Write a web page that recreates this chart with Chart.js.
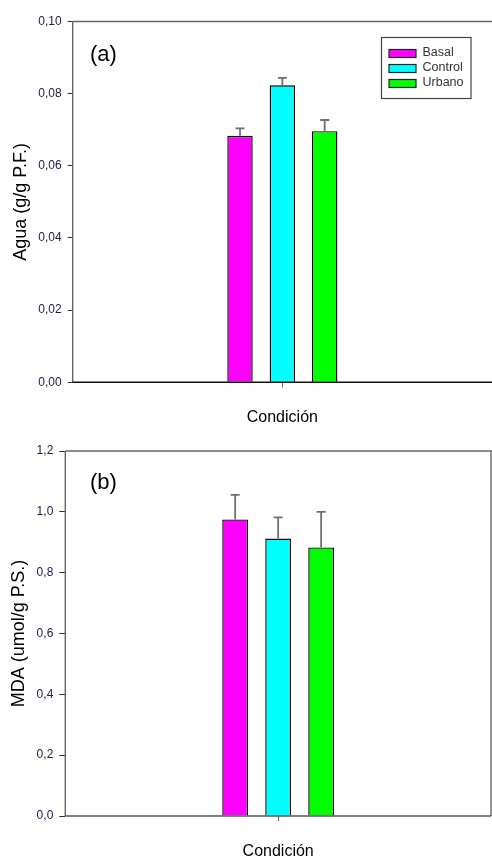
<!DOCTYPE html>
<html>
<head>
<meta charset="utf-8">
<script src="https://cdn.jsdelivr.net/npm/chart.js@4.4.1/dist/chart.umd.min.js"></script>
<style>
    html, body { margin: 0; padding: 0; background: #ffffff; }
    .panel { position: absolute; left: 0; width: 492px; }
    #panelA { top: 0; height: 430px; }
    #panelB { top: 430px; height: 429px; }
</style>
</head>
<body>
<div class="panel" id="panelA"><canvas id="aguaChart"></canvas></div>
<div class="panel" id="panelB"><canvas id="mdaChart"></canvas></div>
<script>
// data
const groups = ['Basal', 'Control', 'Urbano'];
const groupColors = ['#ff00ff', '#00ffff', '#00ff00'];
const xCategory = ['Condición'];

const aguaValues = [0.0683, 0.0823, 0.0696];
const aguaErrors = [0.0021, 0.0021, 0.0031];
const aguaTicks = [0, 0.02, 0.04, 0.06, 0.08, 0.10];

const mdaValues = [0.975, 0.912, 0.883];
const mdaErrors = [0.081, 0.070, 0.117];
const mdaTicks = [0, 0.2, 0.4, 0.6, 0.8, 1.0, 1.2];

Chart.defaults.font.family = "'Liberation Sans', Arial, sans-serif";
Chart.defaults.color = '#000';

function makeDatasets(values, errors) {
    return groups.map((g, i) => ({
        label: g,
        data: [values[i]],
        errors: [errors[i]],
        backgroundColor: groupColors[i],
        borderColor: '#000',
        borderWidth: 1.4,
        categoryPercentage: 0.303,
        barPercentage: 0.6
    }));
}

// error bars, upper side only, with a cap
const errorBars = {
    id: 'errorBars',
    afterDatasetsDraw(chart) {
        let ctx = chart.ctx;
        let yScale = chart.scales.y;
        ctx.save();
        ctx.strokeStyle = '#707070';
        ctx.lineWidth = 1.8;
        chart.data.datasets.forEach((ds, i) => {
            let meta = chart.getDatasetMeta(i);
            meta.data.forEach((bar, j) => {
                let top = yScale.getPixelForValue(ds.data[j] + ds.errors[j]);
                ctx.beginPath();
                ctx.moveTo(bar.x, bar.y);
                ctx.lineTo(bar.x, top);
                ctx.moveTo(bar.x - 4.5, top);
                ctx.lineTo(bar.x + 4.5, top);
                ctx.stroke();
            });
        });
        ctx.restore();
    }
};

// frame round the plot area (top panel has no visible right edge)
const frame = {
    id: 'frame',
    afterDraw(chart, args, opts) {
        let a = chart.chartArea;
        let ctx = chart.ctx;
        ctx.save();
        ctx.lineWidth = 1.4;
        ctx.strokeStyle = opts.color;
        ctx.beginPath();
        ctx.moveTo(a.left, a.top);
        ctx.lineTo(a.right + 5, a.top);
        if (opts.right) {
            ctx.moveTo(a.right, a.top);
            ctx.lineTo(a.right, a.bottom);
        }
        ctx.moveTo(a.left, a.top);
        ctx.lineTo(a.left, a.bottom);
        ctx.stroke();
        ctx.strokeStyle = opts.bottomColor;
        ctx.beginPath();
        ctx.moveTo(a.left, a.bottom);
        ctx.lineTo(a.right + (opts.right ? 0 : 5), a.bottom);
        ctx.stroke();
        ctx.restore();
    }
};

const panelLabel = {
    id: 'panelLabel',
    afterDraw(chart, args, opts) {
        let ctx = chart.ctx;
        ctx.save();
        ctx.font = "22px 'Liberation Sans', Arial, sans-serif";
        ctx.fillStyle = '#000';
        ctx.textBaseline = 'middle';
        ctx.fillText(opts.text, opts.x, opts.y);
        ctx.restore();
    }
};

// boxed legend like the original
const boxLegend = {
    id: 'boxLegend',
    afterDraw(chart, args, opts) {
        if (!opts.show) return;
        let ctx = chart.ctx;
        ctx.save();
        ctx.strokeStyle = '#444';
        ctx.lineWidth = 1.2;
        ctx.strokeRect(381.5, 37.5, 89.5, 61);
        ctx.font = "12.5px 'Liberation Sans', Arial, sans-serif";
        ctx.textBaseline = 'middle';
        chart.data.datasets.forEach((ds, i) => {
            let y = 49.5 + i * 15;
            ctx.fillStyle = ds.backgroundColor;
            ctx.fillRect(389, y, 27, 8);
            ctx.strokeStyle = '#222';
            ctx.strokeRect(389, y, 27, 8);
            ctx.fillStyle = '#333';
            ctx.fillText(ds.label, 422.5, y + 3.5);
        });
        ctx.restore();
    }
};

function makeOptions(cfg) {
    return {
        responsive: true,
        maintainAspectRatio: false,
        animation: false,
        layout: {
            padding: { top: cfg.padTop, right: cfg.padRight, bottom: 0, left: 0 }
        },
        scales: {
            x: {
                grid: {
                    offset: false,
                    drawOnChartArea: false,
                    drawTicks: true,
                    tickLength: 5,
                    color: '#666'
                },
                border: { display: false },
                ticks: { display: false },
                title: {
                    display: true,
                    text: xCategory[0],
                    font: { size: 16, lineHeight: 1 },
                    color: '#000',
                    padding: { top: 0, bottom: cfg.xTitlePad }
                },
                afterFit: (scale) => { scale.height = cfg.xHeight; }
            },
            y: {
                min: 0,
                max: cfg.ticks[cfg.ticks.length - 1],
                afterBuildTicks: (scale) => {
                    scale.ticks = cfg.ticks.map(v => ({ value: v }));
                },
                grid: {
                    drawOnChartArea: false,
                    drawTicks: true,
                    tickLength: cfg.tickLen,
                    color: '#333'
                },
                border: { display: false },
                ticks: {
                    padding: 6,
                    color: '#202050',
                    font: { size: 12 },
                    callback: (v) => v.toFixed(cfg.decimals).replace('.', ',')
                },
                title: {
                    display: true,
                    text: cfg.yTitle,
                    font: { size: 18 },
                    color: '#000',
                    padding: { top: cfg.yTitlePad, bottom: 0 }
                },
                afterFit: (scale) => { scale.width = cfg.yWidth; }
            }
        },
        plugins: {
            legend: { display: false },
            tooltip: { enabled: false },
            frame: { color: cfg.frameColor, bottomColor: cfg.bottomColor, right: cfg.rightEdge },
            panelLabel: { text: cfg.label, x: 90, y: cfg.labelY },
            boxLegend: { show: cfg.legend }
        }
    };
}

new Chart(document.getElementById('aguaChart'), {
    type: 'bar',
    data: { labels: xCategory, datasets: makeDatasets(aguaValues, aguaErrors) },
    options: makeOptions({
        padTop: 21.5, padRight: -1.5, xHeight: 47.7, xTitlePad: 4,
        ticks: aguaTicks, decimals: 2, tickLen: 5,
        yTitle: 'Agua (g/g P.F.)', yTitlePad: 10, yWidth: 72.7,
        frameColor: '#666', bottomColor: '#111', rightEdge: false,
        label: '(a)', labelY: 54.5, legend: true
    }),
    plugins: [errorBars, frame, panelLabel, boxLegend]
});

new Chart(document.getElementById('mdaChart'), {
    type: 'bar',
    data: { labels: xCategory, datasets: makeDatasets(mdaValues, mdaErrors) },
    options: makeOptions({
        padTop: 21, padRight: 1, xHeight: 43, xTitlePad: -1,
        ticks: mdaTicks, decimals: 1, tickLen: 6,
        yTitle: 'MDA (umol/g P.S.)', yTitlePad: 8, yWidth: 65.3,
        frameColor: '#666', bottomColor: '#555', rightEdge: true,
        label: '(b)', labelY: 53.3, legend: false
    }),
    plugins: [errorBars, frame, panelLabel, boxLegend]
});
</script>
</body>
</html>
